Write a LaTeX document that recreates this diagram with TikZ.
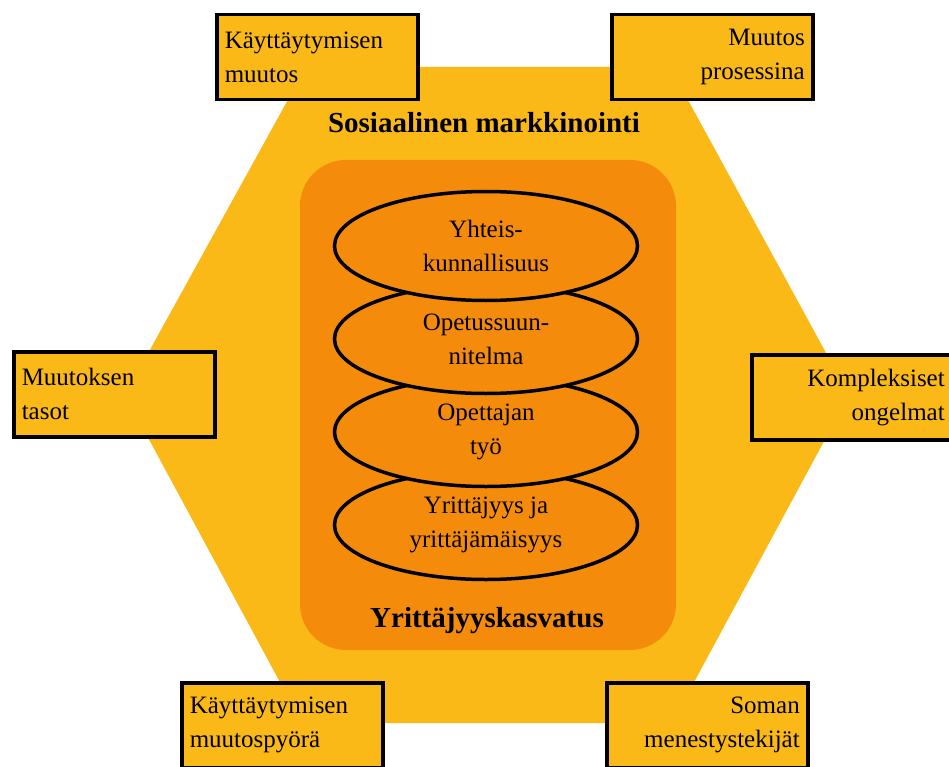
\documentclass[tikz,border=0pt]{standalone}
\usepackage{fontspec}
\setmainfont{Liberation Serif}
\usetikzlibrary{shapes.geometric}
\definecolor{hexgold}{RGB}{251,185,23}
\definecolor{coreorange}{RGB}{245,139,11}
\begin{document}
\begin{tikzpicture}[x=1pt,y=-1pt,
  topic/.style={draw=black, line width=3.5pt, fill=hexgold,
    minimum width=201pt, minimum height=85pt, text width=185pt,
    inner xsep=8pt, inner ysep=0pt, anchor=north west,
    font=\fontsize{25}{34}\selectfont},
  topicl/.style={topic, align=left},
  topicr/.style={topic, align=right},
  layer/.style={ellipse, draw=black, line width=3.5pt, fill=coreorange,
    minimum width=303pt, minimum height=109pt, inner sep=0pt,
    align=center, font=\fontsize{25}{34}\selectfont},
  heading/.style={anchor=base, font=\bfseries\fontsize{29}{34}\selectfont}]
\useasboundingbox (0,0) rectangle (949,767);

% outer hexagon: social marketing
\coordinate (h1) at (306,67);
\coordinate (h2) at (670,67);
\coordinate (h3) at (849,395);
\coordinate (h4) at (672,723);
\coordinate (h5) at (302,723);
\coordinate (h6) at (125,395);
\fill[hexgold] (h1) -- (h2) -- (h3) -- (h4) -- (h5) -- (h6) -- cycle;

% inner rounded panel: entrepreneurship education
\fill[coreorange, rounded corners=46pt] (300,160) rectangle (676,650);

% stacked layers, drawn from the bottom up
\node[layer] (l4) at (486,525) {Yrittäjyys ja\\yrittäjämäisyys};
\node[layer] (l3) at (486,432) {Opettajan\\työ};
\node[layer] (l2) at (486,339) {Opetussuun-\\nitelma};
\node[layer] (l1) at (486,246) {Yhteis-\\kunnallisuus};

\node[heading] (social) at (484,133) {Sosiaalinen markkinointi};
\node[heading] (yk) at (487,627) {Yrittäjyyskasvatus};

% surrounding topics
\node[topicl] (b1) at (215,13) {Käyttäytymisen\\muutos};
\node[topicr] (b2) at (610,13) {Muutos\\prosessina};
\node[topicl] (b3) at (12,350) {Muutoksen\\tasot};
\node[topicr] (b4) at (750,353) {Kompleksiset\\ongelmat};
\node[topicl] (b5) at (180,681) {Käyttäytymisen\\muutospyörä};
\node[topicr] (b6) at (605,681) {Soman\\menestystekijät};
\end{tikzpicture}
\end{document}
